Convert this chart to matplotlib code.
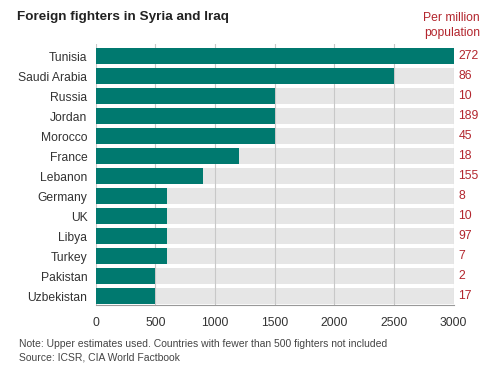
import matplotlib.pyplot as plt
import numpy as np

plt.rcParams['font.family'] = ['Liberation Sans', 'DejaVu Sans']

countries = ['Tunisia', 'Saudi Arabia', 'Russia', 'Jordan', 'Morocco', 'France',
             'Lebanon', 'Germany', 'UK', 'Libya', 'Turkey', 'Pakistan', 'Uzbekistan']
fighters = [3000, 2500, 1500, 1500, 1500, 1200, 900, 600, 600, 600, 600, 500, 500]
per_million = [272, 86, 10, 189, 45, 18, 155, 8, 10, 97, 7, 2, 17]
xticks = [0, 500, 1000, 1500, 2000, 2500, 3000]

teal = '#00796f'
red = '#b3262e'

fig = plt.figure(figsize=(4.96, 3.72), dpi=100)
ax = fig.add_axes([0.193, 0.1801, 0.7217, 0.7016])

y = np.arange(len(countries))
ax.barh(y, [3000] * len(countries), height=0.8, color='#e6e6e6', zorder=1)
for xv in xticks:
    ax.axvline(xv, color='#c8c8c8', lw=0.8, zorder=2)
ax.barh(y, fighters, height=0.8, color=teal, zorder=3)

ax.set_xlim(0, 3000)
ax.set_ylim(12.45, -0.6)
ax.set_yticks(y)
ax.set_yticklabels(countries, fontsize=8.7, color='#333333')
ax.set_xticks(xticks)
ax.set_xticklabels([str(v) for v in xticks], fontsize=8.7, color='#333333')
ax.tick_params(axis='both', length=0)
ax.tick_params(axis='x', pad=8.5)
ax.tick_params(axis='y', pad=6)
for s in ['top', 'right', 'left']:
    ax.spines[s].set_visible(False)
ax.spines['bottom'].set_color('#999999')
ax.spines['bottom'].set_linewidth(0.8)

for yi, v in zip(y, per_million):
    ax.text(3000 + 40, yi, str(v), color=red, fontsize=8.8, va='center', ha='left')

fig.text(17 / 496, 1 - 17 / 372, 'Foreign fighters in Syria and Iraq', fontsize=9.7,
         fontweight='bold', color='#222222', va='center', ha='left')
fig.text(480 / 496, 1 - 18 / 372, 'Per million', fontsize=8.7, color=red, va='center', ha='right')
fig.text(480 / 496, 1 - 33 / 372, 'population', fontsize=8.7, color=red, va='center', ha='right')

fig.text(19 / 496, 1 - 344 / 372,
         'Note: Upper estimates used. Countries with fewer than 500 fighters not included',
         fontsize=7.5, color='#444444', va='center', ha='left')
fig.text(19 / 496, 1 - 358 / 372, 'Source: ICSR, CIA World Factbook',
         fontsize=7.5, color='#444444', va='center', ha='left')

fig.savefig('out.png', dpi=100, facecolor='white')
